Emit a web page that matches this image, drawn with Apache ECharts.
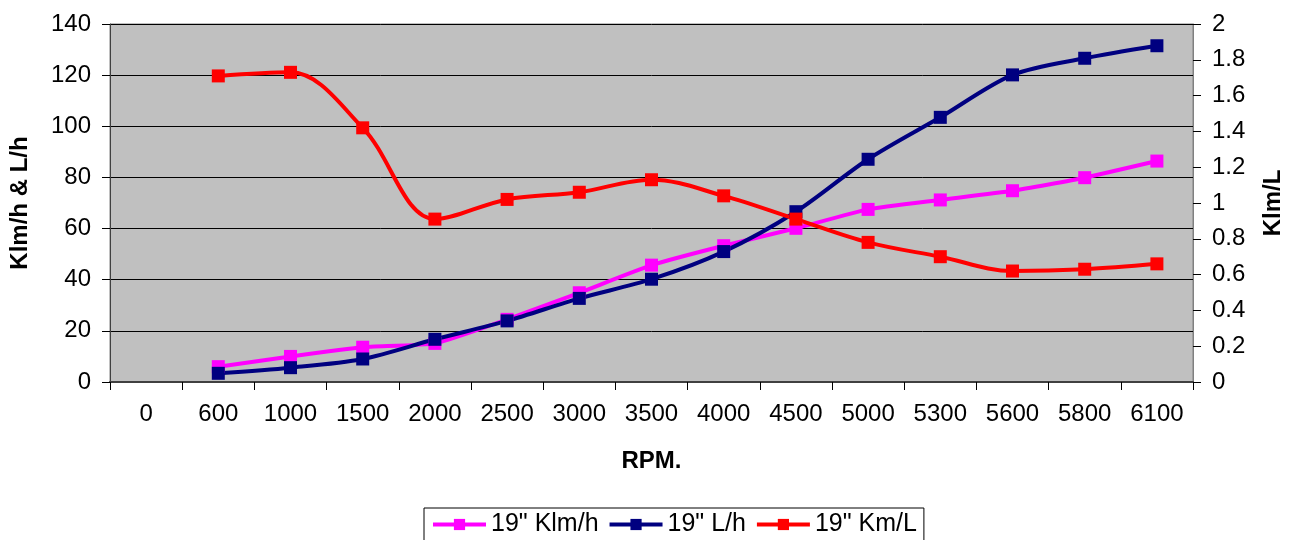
<!DOCTYPE html>
<html>
<head>
<meta charset="utf-8">
<title>19" RPM chart</title>
<script src="https://cdn.jsdelivr.net/npm/echarts@6/dist/echarts.min.js"></script>
<style>
  html, body { margin: 0; padding: 0; background: #fff; }
  #chart { width: 1293px; height: 540px; }
</style>
</head>
<body>
<div id="chart"></div>
<script>
// Engine speed categories (RPM)
const rpm = ['0', '600', '1000', '1500', '2000', '2500', '3000', '3500', '4000', '4500', '5000', '5300', '5600', '5800', '6100'];

// Speed in Klm/h (left axis)
const klmPerHour = [null, 6, 10, 13.6, 15.1, 24.5, 34.9, 45.7, 53.3, 60.1, 67.5, 71.2, 74.8, 79.9, 86.4];

// Fuel consumption in L/h (left axis)
const litresPerHour = [null, 3.4, 5.6, 9.0, 16.7, 23.9, 32.7, 40.2, 51.0, 66.6, 87.1, 103.5, 120.1, 126.6, 131.5];

// Fuel economy in Km/L (right axis)
const kmPerLitre = [null, 1.71, 1.73, 1.42, 0.91, 1.02, 1.06, 1.13, 1.04, 0.91, 0.78, 0.70, 0.62, 0.63, 0.66];

const seriesNames = ['19" Klm/h', '19" L/h', '19" Km/L'];
const seriesColors = ['#FF00FF', '#000080', '#FF0000'];

const FONT = '"Liberation Sans", Arial, sans-serif';
const FS = 24;

const chart = echarts.init(document.getElementById('chart'), null, { renderer: 'canvas' });

function lineSeries(name, color, data, yAxisIndex, smooth) {
  return {
    name: name,
    type: 'line',
    yAxisIndex: yAxisIndex,
    data: data,
    smooth: smooth,
    symbol: 'rect',
    symbolSize: 13,
    showSymbol: true,
    lineStyle: { color: color, width: 4 },
    itemStyle: { color: color },
    emphasis: { disabled: true },
    animation: false
  };
}

chart.setOption({
  animation: false,
  backgroundColor: '#ffffff',
  textStyle: { fontFamily: FONT, color: '#000' },
  grid: {
    left: 108,
    right: 86,
    top: 24,
    bottom: 158,
    show: true,
    backgroundColor: '#C0C0C0',
    borderColor: '#808080',
    borderWidth: 1
  },
  legend: {
    data: seriesNames,
    left: 424,
    top: 508,
    padding: [4, 7, 4, 7],
    itemGap: 9,
    itemWidth: 53,
    itemHeight: 14,
    borderColor: '#000',
    borderWidth: 1,
    borderRadius: 0,
    lineStyle: { width: 4 },
    textStyle: { fontFamily: FONT, fontSize: 25, color: '#000' }
  },
  xAxis: {
    type: 'category',
    data: rpm,
    boundaryGap: true,
    name: 'RPM.',
    nameLocation: 'middle',
    nameGap: 67,
    nameTextStyle: { fontFamily: FONT, fontSize: FS, fontWeight: 'bold', color: '#000' },
    axisLine: { show: true, lineStyle: { color: '#404040', width: 2 } },
    axisTick: { show: true, length: 8, lineStyle: { color: '#000', width: 1 } },
    axisLabel: { fontFamily: FONT, fontSize: FS, color: '#000', margin: 20, interval: 0 },
    splitLine: { show: false }
  },
  yAxis: [
    {
      type: 'value',
      position: 'left',
      min: 0,
      max: 140,
      interval: 20,
      name: 'Klm/h & L/h',
      nameLocation: 'middle',
      nameRotate: 90,
      nameGap: 78,
      nameTextStyle: { fontFamily: FONT, fontSize: FS, fontWeight: 'bold', color: '#000' },
      axisLine: { show: true, lineStyle: { color: '#404040', width: 1 } },
      axisTick: { show: true, length: 8, lineStyle: { color: '#000', width: 1 } },
      axisLabel: { fontFamily: FONT, fontSize: FS, color: '#000', margin: 19 },
      splitLine: { show: true, lineStyle: { color: '#000', width: 1 } }
    },
    {
      type: 'value',
      position: 'right',
      min: 0,
      max: 2,
      interval: 0.2,
      name: 'Klm/L',
      nameLocation: 'middle',
      nameRotate: 90,
      nameGap: 68,
      nameTextStyle: { fontFamily: FONT, fontSize: FS, fontWeight: 'bold', color: '#000' },
      axisLine: { show: true, lineStyle: { color: '#808080', width: 1 } },
      axisTick: { show: true, length: 8, lineStyle: { color: '#000', width: 1 } },
      axisLabel: { fontFamily: FONT, fontSize: FS, color: '#000', margin: 19 },
      splitLine: { show: false }
    }
  ],
  series: [
    lineSeries(seriesNames[0], seriesColors[0], klmPerHour, 0, 0.15),
    lineSeries(seriesNames[1], seriesColors[1], litresPerHour, 0, 0.3),
    lineSeries(seriesNames[2], seriesColors[2], kmPerLitre, 1, 0.35)
  ]
});
</script>
</body>
</html>
